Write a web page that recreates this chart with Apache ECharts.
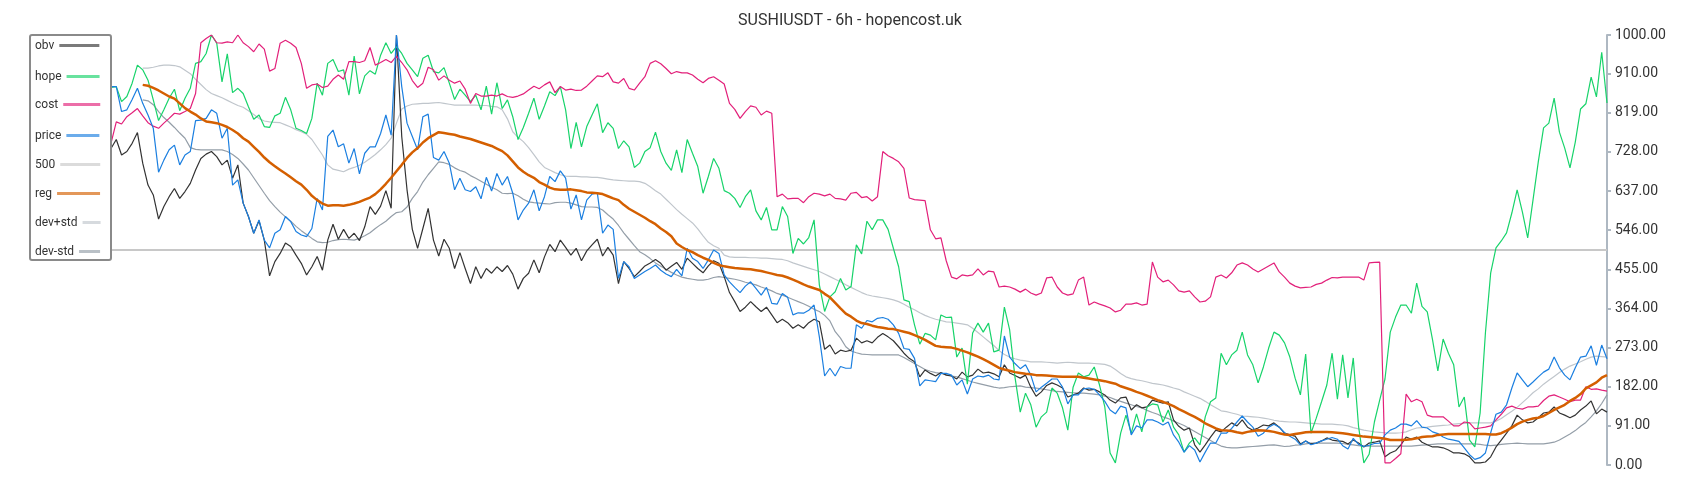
<!DOCTYPE html>
<html><head><meta charset="utf-8">
<script src="https://cdn.jsdelivr.net/npm/echarts@6/dist/echarts.min.js"></script>
<style>html,body{margin:0;padding:0;background:#fff}#c{width:1700px;height:500px}</style>
</head><body><div id="c"></div>
<script>
const price = [
880,880,822,826,850,876,841,814,783,681,
709,733,744,698,721,729,801,802,806,826,
818,760,783,651,663,609,578,539,570,523,
505,539,547,578,566,543,535,531,550,620,
593,764,779,740,747,702,736,677,725,740,
740,771,814,767,1000,880,795,764,733,810,
816,715,709,729,702,640,667,640,636,647,
619,669,637,678,651,671,632,570,593,609,
640,591,624,671,659,684,667,595,628,570,
616,630,633,539,558,548,434,473,461,434,
442,450,457,465,453,444,438,455,440,504,
481,473,457,477,500,492,442,426,413,401,
416,426,411,395,413,376,374,399,390,349,
354,353,360,372,298,207,225,207,229,225,
225,326,318,336,333,341,343,339,326,306,
271,269,248,184,198,196,194,213,213,209,
186,198,165,200,207,205,209,200,198,300,
251,236,224,233,209,170,181,190,200,200,
181,142,163,163,177,179,176,163,148,128,
119,137,133,70,91,86,105,105,100,93,
100,70,53,30,45,35,7,30,51,51,
74,74,85,100,114,100,88,67,74,88,
95,88,75,67,60,47,56,47,51,56,
60,64,60,45,37,62,48,43,46,50,
51,70,81,86,95,95,91,103,88,86,
77,73,65,60,58,55,40,24,13,17,
28,75,118,123,140,179,214,198,182,193,
205,216,223,251,226,209,198,226,251,253,
277,232,279,247];

const obv = [
736,757,721,729,748,773,702,651,628,572,
601,624,643,620,636,655,686,713,723,729,
717,698,709,667,698,609,578,539,568,523,
440,473,492,516,508,488,469,442,461,485,
453,523,560,525,548,527,539,522,554,601,
583,602,638,597,1000,764,640,548,504,550,
597,523,486,525,504,457,494,457,422,461,
434,457,446,461,450,464,444,409,434,446,
477,447,484,513,496,523,506,488,504,475,
498,512,525,486,506,488,422,473,457,438,
450,463,470,478,469,453,462,471,455,481,
469,457,447,463,475,469,438,401,380,357,
367,380,368,357,367,349,331,339,331,318,
326,318,331,339,333,269,279,258,267,264,
267,295,284,289,284,297,306,298,289,275,
260,248,240,205,221,213,207,215,209,207,
200,216,205,209,223,214,216,212,205,233,
214,208,202,209,181,160,170,185,191,186,
179,158,163,167,179,174,176,170,163,151,
144,156,158,128,140,133,135,151,147,144,
147,105,90,81,86,47,30,47,65,81,
77,88,98,91,105,88,81,86,93,91,
98,88,74,70,67,49,56,49,51,56,
63,58,56,55,49,58,51,42,51,53,
56,19,28,33,47,65,60,65,53,47,
42,42,40,35,28,28,26,19,5,5,
7,19,42,58,74,91,116,105,98,100,
110,121,123,135,121,116,110,116,128,137,
149,119,130,123];

const hope = [
878,880,845,857,888,930,919,895,849,801,
826,853,874,824,853,876,934,938,957,1000,
981,891,956,866,876,864,833,804,814,787,
785,812,818,855,826,783,778,771,806,888,
860,934,943,915,919,860,951,863,905,917,
909,953,982,957,973,957,934,919,903,946,
953,915,912,924,888,850,874,860,845,860,
826,881,816,889,829,849,810,757,785,818,
853,804,835,868,859,880,826,736,797,740,
787,814,840,773,796,783,736,754,740,692,
702,729,738,774,729,702,685,733,680,757,
725,694,632,671,713,690,638,632,620,599,
624,640,591,570,599,547,547,601,578,492,
527,514,529,570,419,357,391,403,434,407,
415,512,491,567,547,570,570,548,504,461,
384,380,326,281,306,302,291,349,343,344,
251,272,188,307,330,309,330,263,267,367,
314,205,123,167,140,88,112,123,179,167,
133,81,181,214,205,209,228,186,135,28,
5,74,116,74,119,77,135,142,140,100,
128,88,70,30,51,63,47,112,147,156,
260,233,256,267,309,256,233,191,228,272,
309,302,284,251,202,163,258,74,109,147,
186,260,153,256,156,249,90,5,25,100,
151,200,309,344,372,372,353,423,369,356,
291,219,293,260,233,135,158,58,42,121,
307,447,505,521,540,586,640,588,528,616,
705,784,795,853,774,737,691,751,828,840,
902,856,960,842];

const cost = [
748,798,793,810,819,829,812,796,788,783,
795,806,818,816,822,829,864,982,992,1000,
982,981,984,982,1000,982,973,961,979,967,
916,922,981,988,981,971,934,876,884,886,
878,881,897,907,897,938,938,936,940,971,
930,936,943,936,951,936,919,894,878,888,
925,919,895,905,895,888,893,874,841,864,
858,858,860,858,863,857,855,858,863,872,
881,875,884,891,866,880,872,874,871,872,
881,893,905,903,912,891,888,899,876,872,
888,903,934,940,933,922,910,915,912,912,
907,897,889,899,903,895,886,841,827,806,
822,835,832,814,823,818,624,630,619,620,
620,610,624,632,630,626,630,620,619,616,
632,634,622,624,614,624,729,719,713,705,
690,621,617,616,615,547,526,528,475,437,
433,442,440,442,456,442,451,449,414,416,
414,409,402,409,400,395,400,435,437,414,
400,395,398,430,437,372,379,374,370,365,
356,360,374,374,377,372,374,472,437,426,
430,419,405,402,405,391,379,381,391,437,
442,435,447,465,470,465,456,449,456,463,
470,449,437,423,416,412,413,414,420,423,
430,436,435,437,437,437,437,430,470,471,
472,5,5,15,26,165,147,153,147,116,
112,112,112,102,91,91,100,98,84,86,
88,91,105,118,133,137,132,130,135,135,
137,150,160,163,158,153,147,151,151,182,
176,177,174,172];

const reg = [
null,null,null,null,null,null,884,882,877,871,
864,857,852,841,830,822,815,806,799,797,
795,791,786,779,771,760,752,740,728,715,
704,695,686,678,669,660,652,640,626,616,
608,603,604,604,603,605,608,612,617,622,
630,641,654,668,683,698,714,727,737,750,
760,767,774,772,770,768,764,761,758,754,
750,746,742,736,730,720,706,692,682,674,
668,658,652,645,641,640,640,641,639,637,
634,633,632,630,625,620,616,605,596,589,
582,575,567,560,550,542,532,515,507,500,
495,488,482,477,470,465,462,460,458,457,
456,455,453,451,448,445,442,440,436,431,
426,420,415,411,407,398,390,377,364,352,
345,336,330,328,324,321,319,317,316,313,
310,307,302,297,291,284,277,275,274,273,
270,266,262,257,252,246,240,233,226,222,
219,216,214,212,211,209,209,208,207,206,
205,205,205,205,203,201,199,197,195,192,
189,183,179,175,170,166,161,156,151,147,
142,137,130,124,118,112,105,97,91,85,
81,80,79,76,74,77,79,81,80,79,
77,74,71,70,72,74,76,77,77,77,
77,76,75,74,72,70,68,66,65,64,
63,61,58,58,58,59,60,62,65,66,
67,70,71,72,72,72,72,72,72,72,
72,71,71,74,80,87,95,101,105,108,
110,114,121,128,134,140,149,156,165,178,
185,192,203,209];

const devPlus = [
null,null,null,null,null,null,923,923,925,928,
930,930,929,926,918,910,897,885,873,864,
859,854,848,842,836,832,824,815,806,800,
798,797,796,791,786,780,775,769,757,739,
721,698,688,685,682,688,692,697,704,713,
722,733,745,760,795,828,835,839,840,841,
841,842,843,841,839,837,837,837,837,837,
836,836,834,833,826,805,775,762,752,738,
722,705,692,686,680,675,672,671,671,670,
670,669,669,667,665,663,662,661,660,660,
659,655,647,638,630,618,606,594,583,573,
563,549,533,518,510,504,488,484,483,483,
483,482,482,481,481,480,479,478,475,470,
466,462,458,454,450,444,438,432,426,419,
413,407,401,396,393,391,389,387,384,380,
374,367,361,354,348,343,339,336,333,332,
330,328,326,318,308,298,288,278,266,257,
251,247,244,242,240,240,240,239,238,237,
238,239,238,237,237,237,236,235,234,230,
222,213,205,201,198,196,193,190,188,186,
183,179,176,170,165,160,155,148,140,133,
126,124,121,118,114,113,112,111,109,107,
104,102,101,100,100,99,98,97,96,95,
95,95,94,93,91,87,84,81,79,77,
76,75,74,74,75,77,82,86,87,88,
90,91,92,93,95,96,97,98,98,98,
98,98,102,108,117,125,134,145,156,168,
177,188,197,206,215,223,230,235,240,246,
251,253,252,251];

const devMinus = [
null,null,null,null,null,null,849,847,838,822,
808,797,785,772,760,738,734,733,733,733,
733,733,729,722,713,700,686,668,650,632,
615,601,588,577,567,555,545,536,527,519,
517,518,522,524,525,524,523,527,533,540,
550,559,567,578,587,589,600,620,636,658,
675,690,705,703,699,691,685,681,673,667,
660,653,646,640,632,631,632,626,618,612,
610,609,608,607,610,611,611,609,605,601,
600,600,599,593,582,572,557,540,525,510,
496,489,480,470,462,455,448,442,437,434,
432,430,430,432,436,438,436,434,432,429,
425,422,419,414,410,405,399,395,390,385,
380,375,369,362,357,348,335,310,295,275,
265,261,258,257,256,256,256,256,256,256,
250,243,236,229,222,218,215,213,210,207,
205,201,197,193,190,187,184,181,179,180,
182,183,184,181,180,179,177,175,173,171,
170,169,168,167,167,166,165,163,160,157,
152,148,144,140,136,133,127,122,118,112,
108,102,97,92,85,78,71,64,57,50,
44,41,40,40,41,42,43,44,45,46,
47,45,43,44,46,47,49,51,51,51,
51,51,51,50,48,47,45,44,44,44,
44,44,44,44,44,44,44,45,46,47,
48,49,49,49,49,49,49,49,49,48,
46,45,46,48,49,50,51,50,49,49,
49,49,51,53,58,65,72,80,90,99,
112,126,143,163];

const LEVEL = 500;
const yMin = 0, yMax = 1000, yStep = 91;
const titleText = 'SUSHIUSDT - 6h - hopencost.uk';
const names = ['obv', 'hope', 'cost', 'price', '500', 'reg', 'dev+std', 'dev-std'];

const categories = price.map((_, i) => String(i));
const levelLine = categories.map(() => LEVEL);

const seriesData = {
  'obv': obv, 'hope': hope, 'cost': cost, 'price': price,
  '500': levelLine, 'reg': reg, 'dev+std': devPlus, 'dev-std': devMinus
};
const colors = {
  'obv': '#333333', 'hope': '#17d36a', 'cost': '#e2207a', 'price': '#1b7fe0',
  '500': '#c8c8c8', 'reg': '#d45f00', 'dev+std': '#c0c6cc', 'dev-std': '#949ea8'
};
const widths = {
  'obv': 1.2, 'hope': 1.2, 'cost': 1.2, 'price': 1.2,
  '500': 2, 'reg': 2.5, 'dev+std': 1.2, 'dev-std': 1.2
};
const zs = { 'obv': 3, 'hope': 3, 'cost': 3, 'price': 4, '500': 1, 'reg': 5, 'dev+std': 2, 'dev-std': 2 };
const legendCenters = [45, 76, 104, 135, 164, 193, 222, 251];
const legendIconW = [40, 33, 37, 33, 40, 43, 18, 21];

const chart = echarts.init(document.getElementById('c'), null, { renderer: 'canvas' });

const legends = names.map((n, k) => ({
  data: [{ name: n, icon: 'rect' }],
  orient: 'vertical',
  left: 35,
  top: legendCenters[k] - 5.5,
  align: 'right',
  padding: 0,
  itemWidth: legendIconW[k],
  itemHeight: 3,
  selectedMode: false,
  itemStyle: { opacity: 0.65, borderWidth: 0 },
  textStyle: { fontSize: 12, color: '#333', fontFamily: 'Roboto' }
}));

const series = names.map(n => ({
  name: n,
  type: 'line',
  data: seriesData[n],
  symbol: 'none',
  showSymbol: false,
  connectNulls: false,
  z: zs[n],
  lineStyle: { color: colors[n], width: widths[n] },
  itemStyle: { color: colors[n] },
  emphasis: { disabled: true },
  animation: false
}));

chart.setOption({
  animation: false,
  backgroundColor: '#fff',
  title: {
    text: titleText,
    left: 'center',
    top: 8,
    textStyle: { fontSize: 16, fontWeight: 'normal', color: '#333', fontFamily: 'Roboto' }
  },
  legend: legends,
  grid: { left: 111, right: 93, top: 35, bottom: 35, containLabel: false },
  xAxis: {
    type: 'category',
    data: categories,
    boundaryGap: false,
    show: false
  },
  yAxis: {
    type: 'value',
    position: 'right',
    min: yMin,
    max: yMax,
    interval: yStep,
    splitLine: { show: false },
    axisLine: { show: true, lineStyle: { color: '#aeb8c2', width: 2 } },
    axisTick: { show: true, length: 4, lineStyle: { color: '#aeb8c2', width: 2 } },
    axisLabel: {
      margin: 8,
      fontSize: 14,
      color: '#333',
      fontFamily: 'Roboto',
      formatter: v => v.toFixed(2)
    }
  },
  graphic: [{
    type: 'rect',
    shape: { x: 30, y: 35, width: 81, height: 225, r: 2 },
    style: { fill: 'none', stroke: '#8a8a8a', lineWidth: 2 },
    z: 10
  }],
  series: series
});
</script>
</body></html>
